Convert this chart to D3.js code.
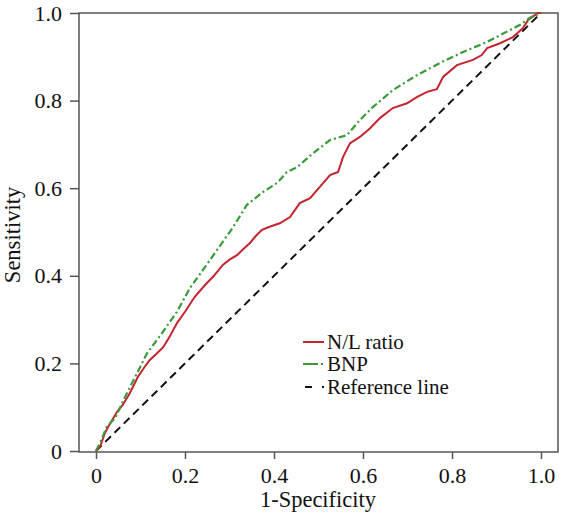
<!DOCTYPE html>
<html><head><meta charset="utf-8">
<script src="https://cdn.jsdelivr.net/npm/d3@7"></script>
<style>body{margin:0;background:#fff}svg{display:block}</style>
</head><body>
<svg id="c" width="564" height="519"></svg>
<script>
const xTicks = [0, 0.2, 0.4, 0.6, 0.8, 1.0];
const yTicks = [0, 0.2, 0.4, 0.6, 0.8, 1.0];
const tickLabels = ["0", "0.2", "0.4", "0.6", "0.8", "1.0"];
const seriesNames = ["N/L ratio", "BNP", "Reference line"];

const nlFpr = [0, 0.01, 0.02, 0.03, 0.047, 0.06, 0.075, 0.094, 0.108, 0.121, 0.136, 0.151, 0.165, 0.182, 0.2, 0.222, 0.245, 0.265, 0.285, 0.3, 0.317, 0.33, 0.346, 0.36, 0.373, 0.39, 0.413, 0.436, 0.458, 0.481, 0.503, 0.526, 0.544, 0.555, 0.571, 0.593, 0.616, 0.638, 0.667, 0.699, 0.721, 0.744, 0.766, 0.78, 0.811, 0.847, 0.867, 0.879, 0.908, 0.937, 0.96, 0.971, 0.993, 1];
const nlTpr = [0, 0.012, 0.041, 0.06, 0.089, 0.105, 0.13, 0.169, 0.19, 0.208, 0.222, 0.237, 0.26, 0.292, 0.318, 0.352, 0.379, 0.4, 0.425, 0.437, 0.447, 0.46, 0.475, 0.492, 0.505, 0.512, 0.52, 0.534, 0.566, 0.577, 0.603, 0.63, 0.637, 0.671, 0.703, 0.717, 0.737, 0.76, 0.783, 0.794, 0.808, 0.82, 0.826, 0.854, 0.881, 0.893, 0.904, 0.92, 0.931, 0.945, 0.966, 0.984, 1.0, 1];

const bnpFpr = [0, 0.012, 0.024, 0.043, 0.065, 0.088, 0.114, 0.151, 0.182, 0.211, 0.24, 0.272, 0.308, 0.339, 0.375, 0.407, 0.429, 0.452, 0.488, 0.526, 0.564, 0.593, 0.622, 0.667, 0.721, 0.773, 0.825, 0.879, 0.93, 0.953, 0.975, 1];
const bnpTpr = [0, 0.025, 0.055, 0.075, 0.123, 0.169, 0.222, 0.273, 0.318, 0.372, 0.413, 0.459, 0.511, 0.562, 0.591, 0.612, 0.637, 0.648, 0.68, 0.71, 0.721, 0.756, 0.785, 0.824, 0.858, 0.886, 0.911, 0.934, 0.961, 0.973, 0.989, 1];

const refFpr = [0, 1];
const refTpr = [0, 1];

const svg = d3.select("#c");
const x = d3.scaleLinear().domain([0, 1]).range([96, 541]);
const y = d3.scaleLinear().domain([0, 1]).range([451, 13]);
const pL = 79, pR = 558, pT = 13, pB = 452;
const axisColor = "#555";
const font = "'Liberation Serif','Times New Roman',serif";

svg.append("rect").attr("x", pL).attr("y", pT).attr("width", pR - pL).attr("height", pB - pT)
  .attr("fill", "none").attr("stroke", axisColor).attr("stroke-width", 1.5);

const xa = svg.append("g").attr("transform", `translate(0,${pB})`)
  .call(d3.axisBottom(x).tickValues(xTicks).tickFormat((d, i) => tickLabels[i]).tickSize(7).tickPadding(6));
xa.select(".domain").remove();
xa.selectAll("line").attr("stroke", axisColor).attr("stroke-width", 1.5);
xa.selectAll("text").attr("font-family", font).attr("font-size", 22).attr("fill", "#111")
  .attr("y", 31).attr("dy", null);

const ya = svg.append("g").attr("transform", `translate(${pL},0)`)
  .call(d3.axisLeft(y).tickValues(yTicks).tickFormat((d, i) => tickLabels[i]).tickSize(9).tickPadding(8));
ya.select(".domain").remove();
ya.selectAll("line").attr("stroke", axisColor).attr("stroke-width", 1.5);
ya.selectAll("text").attr("font-family", font).attr("font-size", 22).attr("fill", "#111")
  .attr("dy", null).attr("y", 7);

svg.append("text").attr("x", 318).attr("y", 507).attr("text-anchor", "middle")
  .attr("font-family", font).attr("font-size", 22.5).attr("fill", "#111").text("1-Specificity");
svg.append("text").attr("transform", "translate(20,235) rotate(-90)").attr("text-anchor", "middle")
  .attr("font-family", font).attr("font-size", 22.5).attr("fill", "#111").text("Sensitivity");

const line = d3.line().x(d => x(d[0])).y(d => y(d[1]));
const styles = [
  {color: "#c4242e", dash: null, w: 2},
  {color: "#3a9a3a", dash: "7,3,2,3", w: 2.2},
  {color: "#111", dash: "8,5", w: 2}
];
const data = [
  d3.zip(refFpr, refTpr),
  d3.zip(nlFpr, nlTpr),
  d3.zip(bnpFpr, bnpTpr)
];
[[2, data[0]], [0, data[1]], [1, data[2]]].forEach(([si, d]) => {
  svg.append("path").datum(d).attr("d", line).attr("fill", "none")
    .attr("stroke", styles[si].color).attr("stroke-width", styles[si].w)
    .attr("stroke-dasharray", styles[si].dash);
});

const lg = svg.append("g");
const legY = [342, 364, 387];
seriesNames.forEach((n, i) => {
  lg.append("line").attr("x1", i === 2 ? 305 : 303).attr("x2", 324).attr("y1", legY[i]).attr("y2", legY[i])
    .attr("stroke", styles[i].color).attr("stroke-width", styles[i].w)
    .attr("stroke-dasharray", i === 1 ? "15,3,2,3" : (i === 2 ? "7,10,2,10" : null));
  lg.append("text").attr("x", 327).attr("y", legY[i] + 7).attr("font-family", font).attr("font-size", 21)
    .attr("fill", "#111").text(n);
});
</script>
</body></html>
